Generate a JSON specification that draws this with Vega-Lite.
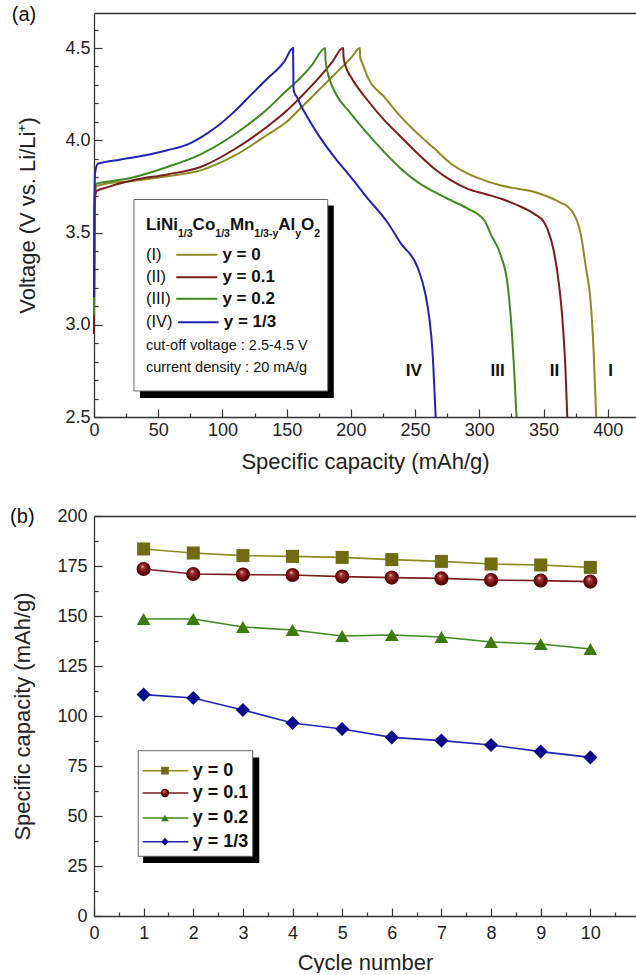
{
  "$schema": "https://vega.github.io/schema/vega-lite/v6.json",
  "padding": {"left": 10, "top": 4, "right": 0, "bottom": 0},
  "spacing": 34,
  "config": {
    "view": {"stroke": null},
    "font": "Liberation Sans",
    "axis": {"labelFont": "Liberation Sans", "labelFontSize": 18, "labelColor": "#222", "titleFont": "Liberation Sans", "titleFontSize": 22, "titleFontWeight": "normal", "titleColor": "#222", "domainColor": "#333", "domainWidth": 1.3, "tickColor": "#333", "tickWidth": 1.2, "grid": false, "labelOverlap": false, "labelFlush": false},
    "text": {"font": "Liberation Sans", "color": "#111"}
  },
  "vconcat": [
    {
      "width": 542,
      "height": 404,
      "resolve": {"axis": {"x": "independent", "y": "independent"}},
      "layer": [
        {
          "data": {"values": [
            {"s":"I","i":1,"c":0,"v":3.0},{"s":"I","i":2,"c":0.3,"v":3.5},{"s":"I","i":3,"c":0.8,"v":3.7},{"s":"I","i":4,"c":2,"v":3.75},{"s":"I","i":5,"c":10,"v":3.765},{"s":"I","i":6,"c":31,"v":3.78},{"s":"I","i":7,"c":57,"v":3.805},{"s":"I","i":8,"c":83,"v":3.837},{"s":"I","i":9,"c":109,"v":3.915},{"s":"I","i":10,"c":135,"v":4.03},{"s":"I","i":11,"c":150,"v":4.1},{"s":"I","i":12,"c":161,"v":4.175},{"s":"I","i":13,"c":174,"v":4.265},{"s":"I","i":14,"c":187,"v":4.355},{"s":"I","i":15,"c":200,"v":4.445},{"s":"I","i":16,"c":207,"v":4.5},{"s":"I","i":17,"c":207.3,"v":4.45},{"s":"I","i":18,"c":209,"v":4.417},{"s":"I","i":19,"c":213,"v":4.344},{"s":"I","i":20,"c":226,"v":4.235},{"s":"I","i":21,"c":239,"v":4.127},{"s":"I","i":22,"c":252,"v":4.036},{"s":"I","i":23,"c":265,"v":3.955},{"s":"I","i":24,"c":278,"v":3.873},{"s":"I","i":25,"c":291,"v":3.819},{"s":"I","i":26,"c":304,"v":3.783},{"s":"I","i":27,"c":317,"v":3.755},{"s":"I","i":28,"c":330,"v":3.737},{"s":"I","i":29,"c":343,"v":3.72},{"s":"I","i":30,"c":355,"v":3.69},{"s":"I","i":31,"c":364,"v":3.66},{"s":"I","i":32,"c":369,"v":3.64},{"s":"I","i":33,"c":373.6,"v":3.6},{"s":"I","i":34,"c":376,"v":3.565},{"s":"I","i":35,"c":379,"v":3.49},{"s":"I","i":36,"c":383,"v":3.31},{"s":"I","i":37,"c":386.6,"v":3.13},{"s":"I","i":38,"c":389,"v":2.86},{"s":"I","i":39,"c":391,"v":2.5},
            {"s":"II","i":1,"c":0,"v":2.95},{"s":"II","i":2,"c":0.3,"v":3.45},{"s":"II","i":3,"c":0.8,"v":3.68},{"s":"II","i":4,"c":2,"v":3.725},{"s":"II","i":5,"c":10,"v":3.745},{"s":"II","i":6,"c":31,"v":3.785},{"s":"II","i":7,"c":57,"v":3.815},{"s":"II","i":8,"c":83,"v":3.855},{"s":"II","i":9,"c":109,"v":3.95},{"s":"II","i":10,"c":135,"v":4.075},{"s":"II","i":11,"c":150,"v":4.16},{"s":"II","i":12,"c":161,"v":4.235},{"s":"II","i":13,"c":174,"v":4.33},{"s":"II","i":14,"c":185,"v":4.42},{"s":"II","i":15,"c":194,"v":4.5},{"s":"II","i":16,"c":194.3,"v":4.45},{"s":"II","i":17,"c":196,"v":4.4},{"s":"II","i":18,"c":200,"v":4.344},{"s":"II","i":19,"c":213,"v":4.217},{"s":"II","i":20,"c":226,"v":4.109},{"s":"II","i":21,"c":239,"v":4.018},{"s":"II","i":22,"c":252,"v":3.928},{"s":"II","i":23,"c":265,"v":3.846},{"s":"II","i":24,"c":278,"v":3.783},{"s":"II","i":25,"c":291,"v":3.737},{"s":"II","i":26,"c":304,"v":3.71},{"s":"II","i":27,"c":317,"v":3.683},{"s":"II","i":28,"c":330,"v":3.647},{"s":"II","i":29,"c":343,"v":3.6},{"s":"II","i":30,"c":350,"v":3.56},{"s":"II","i":31,"c":353,"v":3.52},{"s":"II","i":32,"c":358,"v":3.4},{"s":"II","i":33,"c":362,"v":3.22},{"s":"II","i":34,"c":364.6,"v":3.04},{"s":"II","i":35,"c":367,"v":2.77},{"s":"II","i":36,"c":368.5,"v":2.5},
            {"s":"III","i":1,"c":0,"v":3.05},{"s":"III","i":2,"c":0.3,"v":3.55},{"s":"III","i":3,"c":0.8,"v":3.73},{"s":"III","i":4,"c":2,"v":3.765},{"s":"III","i":5,"c":10,"v":3.775},{"s":"III","i":6,"c":31,"v":3.8},{"s":"III","i":7,"c":57,"v":3.855},{"s":"III","i":8,"c":83,"v":3.924},{"s":"III","i":9,"c":109,"v":4.03},{"s":"III","i":10,"c":135,"v":4.17},{"s":"III","i":11,"c":150,"v":4.27},{"s":"III","i":12,"c":161,"v":4.34},{"s":"III","i":13,"c":170,"v":4.41},{"s":"III","i":14,"c":180,"v":4.5},{"s":"III","i":15,"c":180.3,"v":4.43},{"s":"III","i":16,"c":183,"v":4.34},{"s":"III","i":17,"c":187,"v":4.27},{"s":"III","i":18,"c":200,"v":4.145},{"s":"III","i":19,"c":213,"v":4.036},{"s":"III","i":20,"c":226,"v":3.936},{"s":"III","i":21,"c":239,"v":3.846},{"s":"III","i":22,"c":252,"v":3.773},{"s":"III","i":23,"c":265,"v":3.72},{"s":"III","i":24,"c":278,"v":3.674},{"s":"III","i":25,"c":291,"v":3.63},{"s":"III","i":26,"c":304,"v":3.565},{"s":"III","i":27,"c":309,"v":3.49},{"s":"III","i":28,"c":317,"v":3.37},{"s":"III","i":29,"c":322,"v":3.22},{"s":"III","i":30,"c":324.5,"v":3.04},{"s":"III","i":31,"c":327,"v":2.77},{"s":"III","i":32,"c":329,"v":2.5},
            {"s":"IV","i":1,"c":0,"v":3.15},{"s":"IV","i":2,"c":0.3,"v":3.6},{"s":"IV","i":3,"c":0.8,"v":3.82},{"s":"IV","i":4,"c":3,"v":3.873},{"s":"IV","i":5,"c":20,"v":3.895},{"s":"IV","i":6,"c":44,"v":3.924},{"s":"IV","i":7,"c":57,"v":3.946},{"s":"IV","i":8,"c":73,"v":3.978},{"s":"IV","i":9,"c":83,"v":4.015},{"s":"IV","i":10,"c":96,"v":4.076},{"s":"IV","i":11,"c":109,"v":4.154},{"s":"IV","i":12,"c":122,"v":4.245},{"s":"IV","i":13,"c":135,"v":4.335},{"s":"IV","i":14,"c":148,"v":4.425},{"s":"IV","i":15,"c":155,"v":4.5},{"s":"IV","i":16,"c":155.3,"v":4.28},{"s":"IV","i":17,"c":156.5,"v":4.25},{"s":"IV","i":18,"c":158,"v":4.235},{"s":"IV","i":19,"c":161,"v":4.19},{"s":"IV","i":20,"c":166,"v":4.127},{"s":"IV","i":21,"c":174,"v":4.036},{"s":"IV","i":22,"c":187,"v":3.91},{"s":"IV","i":23,"c":200,"v":3.8},{"s":"IV","i":24,"c":213,"v":3.685},{"s":"IV","i":25,"c":228,"v":3.56},{"s":"IV","i":26,"c":239,"v":3.44},{"s":"IV","i":27,"c":252,"v":3.31},{"s":"IV","i":28,"c":258,"v":3.167},{"s":"IV","i":29,"c":261,"v":3.04},{"s":"IV","i":30,"c":263.5,"v":2.86},{"s":"IV","i":31,"c":266,"v":2.5}
          ]},
          "mark": {"type": "line", "strokeWidth": 2, "interpolate": "monotone"},
          "encoding": {
            "x": {"field": "c", "type": "quantitative", "scale": {"domain": [0, 422], "nice": false, "zero": false},
              "axis": {"orient": "bottom", "title": "Specific capacity (mAh/g)", "titlePadding": 12,
                "values": [0,50,100,150,200,250,300,350,400], "format": "d", "tickSize": -8, "labelPadding": 12}},
            "y": {"field": "v", "type": "quantitative", "scale": {"domain": [2.5, 4.69], "nice": false, "zero": false},
              "axis": {"orient": "left", "title": "Voltage (V vs. Li/Li⁺)", "titlePadding": 25,
                "values": [2.5,3.0,3.5,4.0,4.5], "format": ".1f", "tickSize": -8, "labelPadding": 12}},
            "color": {"field": "s", "type": "nominal", "scale": {"domain": ["I","II","III","IV"], "range": ["#8b8b22","#7b1c1c","#3f8a1f","#2222b4"]}, "legend": null},
            "order": {"field": "i", "type": "quantitative"}
          }
        },
        {
          "data": {"values": [{"x0": 35.8, "x1": 186.7, "y0": 2.603, "y1": 3.647}]},
          "mark": {"type": "rect", "fill": "#000"},
          "encoding": {
            "x": {"field": "x0", "type": "quantitative", "scale": {"domain": [0, 422], "nice": false, "zero": false},
              "axis": {"orient": "top", "labels": false, "ticks": false, "title": null, "domain": true}},
            "x2": {"field": "x1"},
            "y": {"field": "y0", "type": "quantitative", "scale": {"domain": [2.5, 4.69], "nice": false, "zero": false},
              "axis": {"orient": "left", "labels": false, "domain": false, "title": null, "tickSize": -4,
                "values": [2.6,2.7,2.8,2.9,3.1,3.2,3.3,3.4,3.6,3.7,3.8,3.9,4.1,4.2,4.3,4.4,4.6]}},
            "y2": {"field": "y1"}
          }
        },
        {
          "data": {"values": [{"x0": 31.1, "x1": 182.0, "y0": 2.641, "y1": 3.679}]},
          "mark": {"type": "rect", "fill": "#fff", "stroke": "#666", "strokeWidth": 1},
          "encoding": {
            "x": {"field": "x0", "type": "quantitative", "scale": {"domain": [0, 422], "nice": false, "zero": false},
              "axis": {"orient": "bottom", "labels": false, "domain": false, "title": null, "tickSize": -4,
                "values": [25,75,125,175,225,275,325,375]}},
            "x2": {"field": "x1"},
            "y": {"field": "y0", "type": "quantitative", "scale": {"domain": [2.5, 4.69], "nice": false, "zero": false}, "axis": null},
            "y2": {"field": "y1"}
          }
        },
        {
          "data": {"values": [{"s":"I","x":64,"x2":96,"y":3.38},{"s":"II","x":64,"x2":96,"y":3.257},{"s":"III","x":64,"x2":96,"y":3.141},{"s":"IV","x":65.5,"x2":97,"y":3.013}]},
          "mark": {"type": "rule", "strokeWidth": 2},
          "encoding": {
            "x": {"field": "x", "type": "quantitative", "scale": {"domain": [0, 422], "nice": false, "zero": false}, "axis": null},
            "x2": {"field": "x2"},
            "y": {"field": "y", "type": "quantitative", "scale": {"domain": [2.5, 4.69], "nice": false, "zero": false}, "axis": null},
            "color": {"field": "s", "type": "nominal", "scale": {"domain": ["I","II","III","IV"], "range": ["#8b8b22","#7b1c1c","#3f8a1f","#2222b4"]}, "legend": null}
          }
        },
        {
          "data": {"values": [{"t":"(I)","x":40.45,"y":3.38},{"t":"(II)","x":40.45,"y":3.257},{"t":"(III)","x":40.45,"y":3.141},{"t":"(IV)","x":40.45,"y":3.013}]},
          "mark": {"type": "text", "fontSize": 16.5, "align": "left", "baseline": "middle"},
          "encoding": {
            "x": {"field": "x", "type": "quantitative", "scale": {"domain": [0, 422], "nice": false, "zero": false}, "axis": null},
            "y": {"field": "y", "type": "quantitative", "scale": {"domain": [2.5, 4.69], "nice": false, "zero": false}, "axis": null},
            "text": {"field": "t"}
          }
        },
        {
          "data": {"values": [{"t":"y = 0","x":100,"y":3.38},{"t":"y = 0.1","x":100,"y":3.257},{"t":"y = 0.2","x":100,"y":3.141},{"t":"y = 1/3","x":101,"y":3.013}]},
          "mark": {"type": "text", "fontSize": 17, "fontWeight": "bold", "align": "left", "baseline": "middle"},
          "encoding": {
            "x": {"field": "x", "type": "quantitative", "scale": {"domain": [0, 422], "nice": false, "zero": false}, "axis": null},
            "y": {"field": "y", "type": "quantitative", "scale": {"domain": [2.5, 4.69], "nice": false, "zero": false}, "axis": null},
            "text": {"field": "t"}
          }
        },
        {
          "data": {"values": [{"t":"LiNi","x":40.45,"y":3.511},{"t":"Co","x":76.78,"y":3.511},{"t":"Mn","x":105.8,"y":3.511},{"t":"Al","x":143.45,"y":3.511},{"t":"O","x":161.18,"y":3.511}]},
          "mark": {"type": "text", "fontSize": 17, "fontWeight": "bold", "align": "left", "baseline": "alphabetic"},
          "encoding": {
            "x": {"field": "x", "type": "quantitative", "scale": {"domain": [0, 422], "nice": false, "zero": false}, "axis": null},
            "y": {"field": "y", "type": "quantitative", "scale": {"domain": [2.5, 4.69], "nice": false, "zero": false}, "axis": null},
            "text": {"field": "t"}
          }
        },
        {
          "data": {"values": [{"t":"1/3","x":65.42,"y":3.478},{"t":"1/3","x":94.44,"y":3.478},{"t":"1/3-y","x":124.85,"y":3.478},{"t":"y","x":156.67,"y":3.478},{"t":"2","x":171.45,"y":3.478}]},
          "mark": {"type": "text", "fontSize": 10.5, "fontWeight": "bold", "align": "left", "baseline": "alphabetic"},
          "encoding": {
            "x": {"field": "x", "type": "quantitative", "scale": {"domain": [0, 422], "nice": false, "zero": false}, "axis": null},
            "y": {"field": "y", "type": "quantitative", "scale": {"domain": [2.5, 4.69], "nice": false, "zero": false}, "axis": null},
            "text": {"field": "t"}
          }
        },
        {
          "data": {"values": [{"t":"cut-off voltage : 2.5-4.5 V","x":40.45,"y":2.886},{"t":"current density : 20 mA/g","x":40.45,"y":2.768}]},
          "mark": {"type": "text", "fontSize": 14.5, "align": "left", "baseline": "middle"},
          "encoding": {
            "x": {"field": "x", "type": "quantitative", "scale": {"domain": [0, 422], "nice": false, "zero": false}, "axis": null},
            "y": {"field": "y", "type": "quantitative", "scale": {"domain": [2.5, 4.69], "nice": false, "zero": false}, "axis": null},
            "text": {"field": "t"}
          }
        },
        {
          "data": {"values": [{"t":"IV","x":249,"y":2.75},{"t":"III","x":314.3,"y":2.75},{"t":"II","x":358.6,"y":2.75},{"t":"I","x":402.2,"y":2.75}]},
          "mark": {"type": "text", "fontSize": 17, "fontWeight": "bold", "align": "center", "baseline": "middle"},
          "encoding": {
            "x": {"field": "x", "type": "quantitative", "scale": {"domain": [0, 422], "nice": false, "zero": false}, "axis": null},
            "y": {"field": "y", "type": "quantitative", "scale": {"domain": [2.5, 4.69], "nice": false, "zero": false}, "axis": null},
            "text": {"field": "t"}
          }
        },
        {
          "data": {"values": [{"t":"(a)","x":-64,"y":4.68}]},
          "mark": {"type": "text", "fontSize": 20, "align": "left", "baseline": "middle"},
          "encoding": {
            "x": {"field": "x", "type": "quantitative", "scale": {"domain": [0, 422], "nice": false, "zero": false}, "axis": null},
            "y": {"field": "y", "type": "quantitative", "scale": {"domain": [2.5, 4.69], "nice": false, "zero": false}, "axis": null},
            "text": {"field": "t"}
          }
        }
      ]
    },
    {
      "width": 542,
      "height": 400,
      "resolve": {"axis": {"x": "independent", "y": "independent"}},
      "layer": [
        {
          "data": {"name": "cyc", "values": [
            {"s":"y = 0","n":1,"v":183.5},{"s":"y = 0","n":2,"v":181.5},{"s":"y = 0","n":3,"v":180.2},{"s":"y = 0","n":4,"v":179.8},{"s":"y = 0","n":5,"v":179.3},{"s":"y = 0","n":6,"v":178.2},{"s":"y = 0","n":7,"v":177.3},{"s":"y = 0","n":8,"v":176},{"s":"y = 0","n":9,"v":175.5},{"s":"y = 0","n":10,"v":174.3},
            {"s":"y = 0.1","n":1,"v":173.5},{"s":"y = 0.1","n":2,"v":171},{"s":"y = 0.1","n":3,"v":170.7},{"s":"y = 0.1","n":4,"v":170.5},{"s":"y = 0.1","n":5,"v":169.7},{"s":"y = 0.1","n":6,"v":169.2},{"s":"y = 0.1","n":7,"v":168.8},{"s":"y = 0.1","n":8,"v":168},{"s":"y = 0.1","n":9,"v":167.7},{"s":"y = 0.1","n":10,"v":167.2},
            {"s":"y = 0.2","n":1,"v":148.5},{"s":"y = 0.2","n":2,"v":148.5},{"s":"y = 0.2","n":3,"v":144.5},{"s":"y = 0.2","n":4,"v":143},{"s":"y = 0.2","n":5,"v":140},{"s":"y = 0.2","n":6,"v":140.5},{"s":"y = 0.2","n":7,"v":139.5},{"s":"y = 0.2","n":8,"v":137},{"s":"y = 0.2","n":9,"v":136},{"s":"y = 0.2","n":10,"v":133.5},
            {"s":"y = 1/3","n":1,"v":110.7},{"s":"y = 1/3","n":2,"v":109},{"s":"y = 1/3","n":3,"v":103},{"s":"y = 1/3","n":4,"v":96.5},{"s":"y = 1/3","n":5,"v":93.5},{"s":"y = 1/3","n":6,"v":89.3},{"s":"y = 1/3","n":7,"v":87.7},{"s":"y = 1/3","n":8,"v":85.5},{"s":"y = 1/3","n":9,"v":82.2},{"s":"y = 1/3","n":10,"v":79.3}
          ]},
          "mark": {"type": "line", "strokeWidth": 1.6},
          "encoding": {
            "x": {"field": "n", "type": "quantitative", "scale": {"domain": [0, 10.92], "nice": false, "zero": false},
              "axis": {"orient": "bottom", "title": "Cycle number", "titlePadding": 10,
                "values": [0,1,2,3,4,5,6,7,8,9,10], "format": "d", "tickSize": -8, "labelPadding": 16}},
            "y": {"field": "v", "type": "quantitative", "scale": {"domain": [0, 200], "nice": false},
              "axis": {"orient": "left", "title": "Specific capacity (mAh/g)", "titlePadding": 22,
                "values": [0,25,50,75,100,125,150,175,200], "format": "d", "tickSize": -8, "labelPadding": 15}},
            "color": {"field": "s", "type": "nominal", "scale": {"domain": ["y = 0","y = 0.1","y = 0.2","y = 1/3"], "range": ["#8c8c2c","#8b3a3a","#4f8f2f","#2b2ba8"]}, "legend": null}
          }
        },
        {
          "data": {"name": "cyc"},
          "transform": [{"filter": "datum.s !== 'y = 0.1'"}],
          "mark": {"type": "point", "filled": true, "opacity": 1},
          "encoding": {
            "x": {"field": "n", "type": "quantitative", "scale": {"domain": [0, 10.92], "nice": false, "zero": false}, "axis": null},
            "y": {"field": "v", "type": "quantitative", "scale": {"domain": [0, 200], "nice": false}, "axis": null},
            "shape": {"field": "s", "type": "nominal", "scale": {"domain": ["y = 0","y = 0.1","y = 0.2","y = 1/3"], "range": ["square","circle","triangle-up","diamond"]}, "legend": null},
            "fill": {"field": "s", "type": "nominal", "scale": {"domain": ["y = 0","y = 0.1","y = 0.2","y = 1/3"], "range": ["#6e6e10","#6a0808","#3c7a0e","#0c0c8c"]}, "legend": null},
            "size": {"field": "s", "type": "nominal", "scale": {"domain": ["y = 0","y = 0.1","y = 0.2","y = 1/3"], "range": [170,200,270,250]}, "legend": null}
          }
        },
        {
          "data": {"name": "cyc"},
          "transform": [{"filter": "datum.s === 'y = 0.1'"}],
          "mark": {"type": "point", "shape": "circle", "size": 200, "opacity": 1, "strokeWidth": 0,
            "fill": {"gradient": "radial", "x1": 0.4, "y1": 0.3, "r1": 0, "x2": 0.5, "y2": 0.5, "r2": 0.55,
              "stops": [{"offset": 0, "color": "#f6dede"}, {"offset": 0.22, "color": "#a83838"}, {"offset": 0.65, "color": "#6a0808"}, {"offset": 1, "color": "#420000"}]}},
          "encoding": {
            "x": {"field": "n", "type": "quantitative", "scale": {"domain": [0, 10.92], "nice": false, "zero": false}, "axis": null},
            "y": {"field": "v", "type": "quantitative", "scale": {"domain": [0, 200], "nice": false}, "axis": null}
          }
        },
        {
          "data": {"values": [{"x0": 0.99, "x1": 3.33, "y0": 26.5, "y1": 79.3}]},
          "mark": {"type": "rect", "fill": "#000"},
          "encoding": {
            "x": {"field": "x0", "type": "quantitative", "scale": {"domain": [0, 10.92], "nice": false, "zero": false},
              "axis": {"orient": "top", "labels": false, "ticks": false, "title": null, "domain": true}},
            "x2": {"field": "x1"},
            "y": {"field": "y0", "type": "quantitative", "scale": {"domain": [0, 200], "nice": false},
              "axis": {"orient": "left", "labels": false, "domain": false, "title": null, "tickSize": -4,
                "values": [12.5,37.5,62.5,87.5,112.5,137.5,162.5,187.5]}},
            "y2": {"field": "y1"}
          }
        },
        {
          "data": {"values": [{"x0": 0.891, "x1": 3.197, "y0": 29.85, "y1": 82.65}]},
          "mark": {"type": "rect", "fill": "#fff", "stroke": "#666", "strokeWidth": 1},
          "encoding": {
            "x": {"field": "x0", "type": "quantitative", "scale": {"domain": [0, 10.92], "nice": false, "zero": false},
              "axis": {"orient": "bottom", "labels": false, "domain": false, "title": null, "tickSize": -4,
                "values": [0.5,1.5,2.5,3.5,4.5,5.5,6.5,7.5,8.5,9.5,10.5]}},
            "x2": {"field": "x1"},
            "y": {"field": "y0", "type": "quantitative", "scale": {"domain": [0, 200], "nice": false}, "axis": null},
            "y2": {"field": "y1"}
          }
        },
        {
          "data": {"name": "leg", "values": [{"s":"y = 0","x":0.98,"x2":1.9,"m":1.43,"tx":1.99,"y":72.65},{"s":"y = 0.1","x":0.98,"x2":1.9,"m":1.43,"tx":1.99,"y":61.5},{"s":"y = 0.2","x":0.98,"x2":1.9,"m":1.43,"tx":1.99,"y":49},{"s":"y = 1/3","x":0.98,"x2":1.9,"m":1.43,"tx":1.99,"y":37.15}]},
          "mark": {"type": "rule", "strokeWidth": 1.6},
          "encoding": {
            "x": {"field": "x", "type": "quantitative", "scale": {"domain": [0, 10.92], "nice": false, "zero": false}, "axis": null},
            "x2": {"field": "x2"},
            "y": {"field": "y", "type": "quantitative", "scale": {"domain": [0, 200], "nice": false}, "axis": null},
            "color": {"field": "s", "type": "nominal", "scale": {"domain": ["y = 0","y = 0.1","y = 0.2","y = 1/3"], "range": ["#8c8c2c","#8b3a3a","#4f8f2f","#2b2ba8"]}, "legend": null}
          }
        },
        {
          "data": {"name": "leg"},
          "transform": [{"filter": "datum.s !== 'y = 0.1'"}],
          "mark": {"type": "point", "filled": true, "opacity": 1, "size": 60},
          "encoding": {
            "x": {"field": "m", "type": "quantitative", "scale": {"domain": [0, 10.92], "nice": false, "zero": false}, "axis": null},
            "y": {"field": "y", "type": "quantitative", "scale": {"domain": [0, 200], "nice": false}, "axis": null},
            "shape": {"field": "s", "type": "nominal", "scale": {"domain": ["y = 0","y = 0.1","y = 0.2","y = 1/3"], "range": ["square","circle","triangle-up","diamond"]}, "legend": null},
            "fill": {"field": "s", "type": "nominal", "scale": {"domain": ["y = 0","y = 0.1","y = 0.2","y = 1/3"], "range": ["#6e6e10","#6a0808","#3c7a0e","#0c0c8c"]}, "legend": null}
          }
        },
        {
          "data": {"name": "leg"},
          "transform": [{"filter": "datum.s === 'y = 0.1'"}],
          "mark": {"type": "point", "shape": "circle", "size": 70, "opacity": 1, "strokeWidth": 0,
            "fill": {"gradient": "radial", "x1": 0.4, "y1": 0.3, "r1": 0, "x2": 0.5, "y2": 0.5, "r2": 0.55,
              "stops": [{"offset": 0, "color": "#f6dede"}, {"offset": 0.22, "color": "#a83838"}, {"offset": 0.65, "color": "#6a0808"}, {"offset": 1, "color": "#420000"}]}},
          "encoding": {
            "x": {"field": "m", "type": "quantitative", "scale": {"domain": [0, 10.92], "nice": false, "zero": false}, "axis": null},
            "y": {"field": "y", "type": "quantitative", "scale": {"domain": [0, 200], "nice": false}, "axis": null}
          }
        },
        {
          "data": {"name": "leg"},
          "mark": {"type": "text", "fontSize": 18, "fontWeight": "bold", "align": "left", "baseline": "middle"},
          "encoding": {
            "x": {"field": "tx", "type": "quantitative", "scale": {"domain": [0, 10.92], "nice": false, "zero": false}, "axis": null},
            "y": {"field": "y", "type": "quantitative", "scale": {"domain": [0, 200], "nice": false}, "axis": null},
            "text": {"field": "s"}
          }
        },
        {
          "data": {"values": [{"t":"(b)","x":-1.69,"y":199.5}]},
          "mark": {"type": "text", "fontSize": 20, "align": "left", "baseline": "middle"},
          "encoding": {
            "x": {"field": "x", "type": "quantitative", "scale": {"domain": [0, 10.92], "nice": false, "zero": false}, "axis": null},
            "y": {"field": "y", "type": "quantitative", "scale": {"domain": [0, 200], "nice": false}, "axis": null},
            "text": {"field": "t"}
          }
        }
      ]
    }
  ]
}
